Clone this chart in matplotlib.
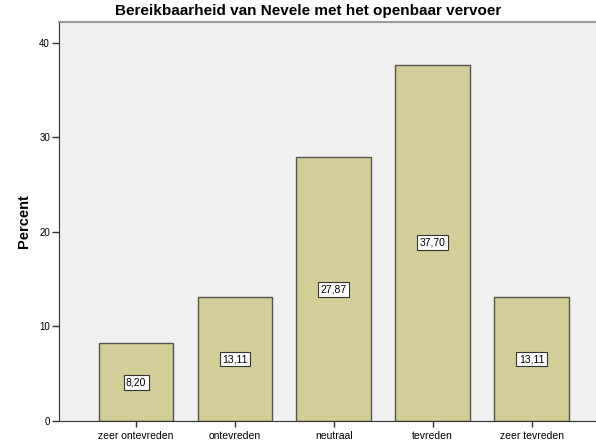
import matplotlib
matplotlib.use("Agg")
import matplotlib.pyplot as plt

categories = ["zeer ontevreden", "ontevreden", "neutraal", "tevreden", "zeer tevreden"]
percent = [8.20, 13.11, 27.87, 37.70, 13.11]
labels = ["8,20", "13,11", "27,87", "37,70", "13,11"]
yticks = [0, 10, 20, 30, 40]

plt.rcParams['font.family'] = ['Liberation Sans', 'DejaVu Sans']

W, H = 596, 447
fig = plt.figure(figsize=(W/100, H/100), dpi=100)
ax = fig.add_axes([59/W, 26/H, 1 - 59/W, (421-22)/H])
ax.set_facecolor('#f0f0f0')
x = list(range(len(categories)))
ax.bar(x, percent, width=0.755, color='#d3ce97', edgecolor='#55554d', linewidth=1.0, zorder=2)
for xi, v, lab in zip(x, percent, labels):
    ax.text(xi, v/2, lab, ha='center', va='center', fontsize=7.5, color='black', zorder=3,
            bbox=dict(boxstyle='square,pad=0.22', facecolor='white', edgecolor='#333333', linewidth=0.8))
ax.set_xlim(-0.779, 4.652)
ax.set_ylim(0, 42.2)
ax.set_yticks(yticks)
ax.set_yticklabels([str(t) for t in yticks])
ax.set_xticks(x)
ax.set_xticklabels(categories)
ax.tick_params(axis='x', labelsize=7.5, length=4.5, width=1, color='#333333', pad=2.5)
ax.tick_params(axis='y', labelsize=7, length=5, width=1, color='#333333', pad=1.5)
ax.spines['right'].set_visible(False)
ax.spines['top'].set_color('#9a9a9a')
ax.spines['top'].set_linewidth(1.5)
ax.spines['left'].set_color('#333333')
ax.spines['bottom'].set_color('#333333')
ax.set_ylabel('Percent', fontsize=10.5, fontweight='bold', labelpad=6)
fig.text(308.5/W, 1 - 10.5/H, 'Bereikbaarheid van Nevele met het openbaar vervoer',
         ha='center', va='center', fontsize=11, fontweight='bold')
fig.savefig('out.png', dpi=100)
